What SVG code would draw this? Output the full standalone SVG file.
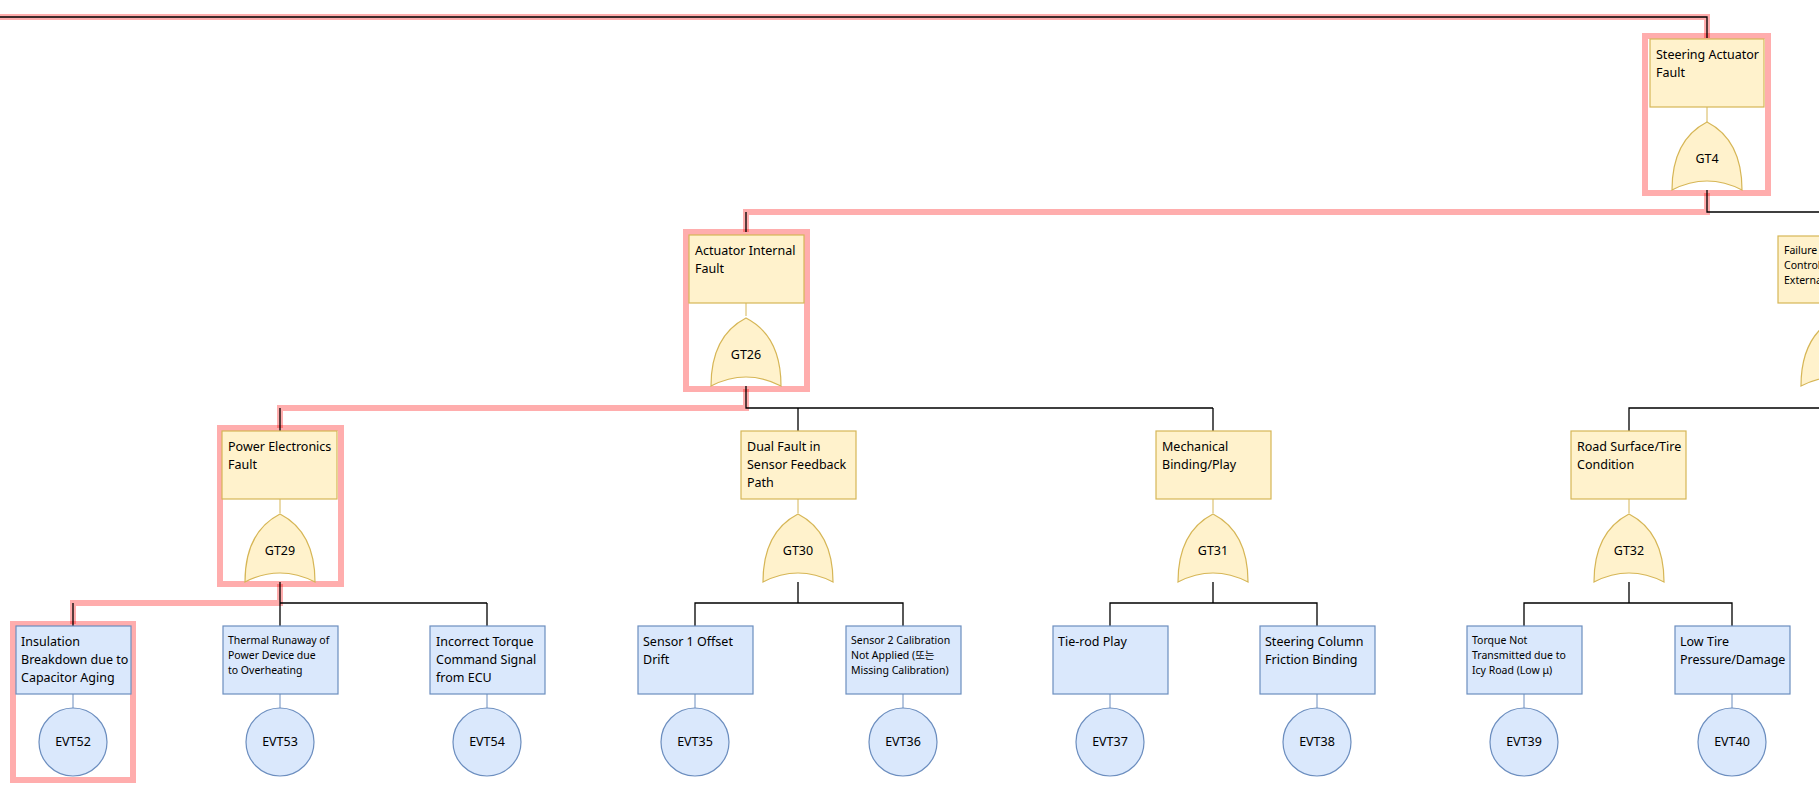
<svg xmlns="http://www.w3.org/2000/svg" width="1819" height="795" viewBox="0 0 1819 795">
<style>
.g{fill:#fff2cc;stroke:#d6b656;stroke-width:1.2}
.e{fill:#dae8fc;stroke:#6c8ebf;stroke-width:1.2}
.w{stroke:#000;stroke-width:1.3;fill:none}
.y{stroke:#d6b656;stroke-width:1;fill:none}
.b{stroke:#6c8ebf;stroke-width:1;fill:none}
.h{stroke:#ff0000;stroke-opacity:0.32;stroke-width:6;fill:none}
text{font-family:"Noto Sans","Noto Sans CJK KR",sans-serif;font-size:12.5px;fill:#000}
.s{font-size:10.5px}
.c{text-anchor:middle}
</style>
<rect width="1819" height="795" fill="#fff"/>
<g id="highlights">
<path class="h" d="M0,17H1707V38"/>
<rect class="h" x="1645" y="36" width="123" height="157"/>
<path class="h" d="M1707,193V212H746V232"/>
<rect class="h" x="686" y="232" width="121" height="157"/>
<path class="h" d="M746,389V408H280V428"/>
<rect class="h" x="220" y="428" width="121" height="156"/>
<path class="h" d="M280,584V603H73V624"/>
<rect class="h" x="13" y="624" width="120" height="156"/>
</g>
<g id="connectors">
<path class="w" d="M0,17H1707V38"/>
<path class="w" d="M1707,190V212H1819M746,232V212"/>
<path class="w" d="M1836,232V212"/>
<path class="w" d="M746,386V408H1213M280,431V408M798,431V408M1213,431V408"/>
<path class="w" d="M1629,431V408H1819"/>
<path class="w" d="M280,582V603H487M73,626V603M280,626V603M487,626V603"/>
<path class="w" d="M798,582V603M695,626V603H903V626"/>
<path class="w" d="M1213,582V603M1110,626V603H1317V626"/>
<path class="w" d="M1629,582V603M1524,626V603H1732V626"/>
<path class="y" d="M1707,107V122M746,303V316M280,499V513M798,499V513M1213,499V513M1629,499V513M1836,303V316"/>
<path class="b" d="M73,694V708M280,694V708M487,694V708M695,694V708M903,694V708M1110,694V708M1317,694V708M1524,694V708M1732,694V708"/>
</g>
<defs>
<path id="gate" d="M-35,68Q-35,18 0,0Q35,18 35,68Q0,50 -35,68Z"/>
</defs>
<g id="GT4"><rect class="g" x="1650" y="39" width="114" height="68"/><text x="1656" y="59">Steering Actuator</text><text x="1656" y="77">Fault</text><use href="#gate" class="g" x="1707" y="122"/><text class="c" x="1707" y="163">GT4</text></g>
<g id="GT26"><rect class="g" x="689" y="235" width="115" height="68"/><text x="695" y="255">Actuator Internal</text><text x="695" y="273">Fault</text><use href="#gate" class="g" x="746" y="318"/><text class="c" x="746" y="359">GT26</text></g>
<g id="GTR"><rect class="g" x="1778" y="236" width="115" height="67"/><text class="s" x="1784" y="254">Failure to</text><text class="s" x="1784" y="269">Control</text><text class="s" x="1784" y="284">External</text><use href="#gate" class="g" x="1836" y="318"/></g>
<g id="GT29"><rect class="g" x="222" y="431" width="115" height="68"/><text x="228" y="451">Power Electronics</text><text x="228" y="469">Fault</text><use href="#gate" class="g" x="280" y="514"/><text class="c" x="280" y="555">GT29</text></g>
<g id="GT30"><rect class="g" x="741" y="431" width="115" height="68"/><text x="747" y="451">Dual Fault in</text><text x="747" y="469">Sensor Feedback</text><text x="747" y="487">Path</text><use href="#gate" class="g" x="798" y="514"/><text class="c" x="798" y="555">GT30</text></g>
<g id="GT31"><rect class="g" x="1156" y="431" width="115" height="68"/><text x="1162" y="451">Mechanical</text><text x="1162" y="469">Binding/Play</text><use href="#gate" class="g" x="1213" y="514"/><text class="c" x="1213" y="555">GT31</text></g>
<g id="GT32"><rect class="g" x="1571" y="431" width="115" height="68"/><text x="1577" y="451">Road Surface/Tire</text><text x="1577" y="469">Condition</text><use href="#gate" class="g" x="1629" y="514"/><text class="c" x="1629" y="555">GT32</text></g>
<g id="EVT52"><rect class="e" x="16" y="626" width="115" height="68"/><text x="21" y="646">Insulation</text><text x="21" y="664">Breakdown due to</text><text x="21" y="682">Capacitor Aging</text><ellipse class="e" cx="73" cy="742" rx="34" ry="34"/><text class="c" x="73" y="746">EVT52</text></g>
<g id="EVT53"><rect class="e" x="223" y="626" width="115" height="68"/><text class="s" x="228" y="644">Thermal Runaway of</text><text class="s" x="228" y="659">Power Device due</text><text class="s" x="228" y="674">to Overheating</text><ellipse class="e" cx="280" cy="742" rx="34" ry="34"/><text class="c" x="280" y="746">EVT53</text></g>
<g id="EVT54"><rect class="e" x="430" y="626" width="115" height="68"/><text x="436" y="646">Incorrect Torque</text><text x="436" y="664">Command Signal</text><text x="436" y="682">from ECU</text><ellipse class="e" cx="487" cy="742" rx="34" ry="34"/><text class="c" x="487" y="746">EVT54</text></g>
<g id="EVT35"><rect class="e" x="638" y="626" width="115" height="68"/><text x="643" y="646">Sensor 1 Offset</text><text x="643" y="664">Drift</text><ellipse class="e" cx="695" cy="742" rx="34" ry="34"/><text class="c" x="695" y="746">EVT35</text></g>
<g id="EVT36"><rect class="e" x="846" y="626" width="115" height="68"/><text class="s" x="851" y="644">Sensor 2 Calibration</text><text class="s" x="851" y="659">Not Applied (또는</text><text class="s" x="851" y="674">Missing Calibration)</text><ellipse class="e" cx="903" cy="742" rx="34" ry="34"/><text class="c" x="903" y="746">EVT36</text></g>
<g id="EVT37"><rect class="e" x="1053" y="626" width="115" height="68"/><text x="1058" y="646">Tie-rod Play</text><ellipse class="e" cx="1110" cy="742" rx="34" ry="34"/><text class="c" x="1110" y="746">EVT37</text></g>
<g id="EVT38"><rect class="e" x="1260" y="626" width="115" height="68"/><text x="1265" y="646">Steering Column</text><text x="1265" y="664">Friction Binding</text><ellipse class="e" cx="1317" cy="742" rx="34" ry="34"/><text class="c" x="1317" y="746">EVT38</text></g>
<g id="EVT39"><rect class="e" x="1467" y="626" width="115" height="68"/><text class="s" x="1472" y="644">Torque Not</text><text class="s" x="1472" y="659">Transmitted due to</text><text class="s" x="1472" y="674">Icy Road (Low μ)</text><ellipse class="e" cx="1524" cy="742" rx="34" ry="34"/><text class="c" x="1524" y="746">EVT39</text></g>
<g id="EVT40"><rect class="e" x="1675" y="626" width="115" height="68"/><text x="1680" y="646">Low Tire</text><text x="1680" y="664">Pressure/Damage</text><ellipse class="e" cx="1732" cy="742" rx="34" ry="34"/><text class="c" x="1732" y="746">EVT40</text></g>
</svg>
